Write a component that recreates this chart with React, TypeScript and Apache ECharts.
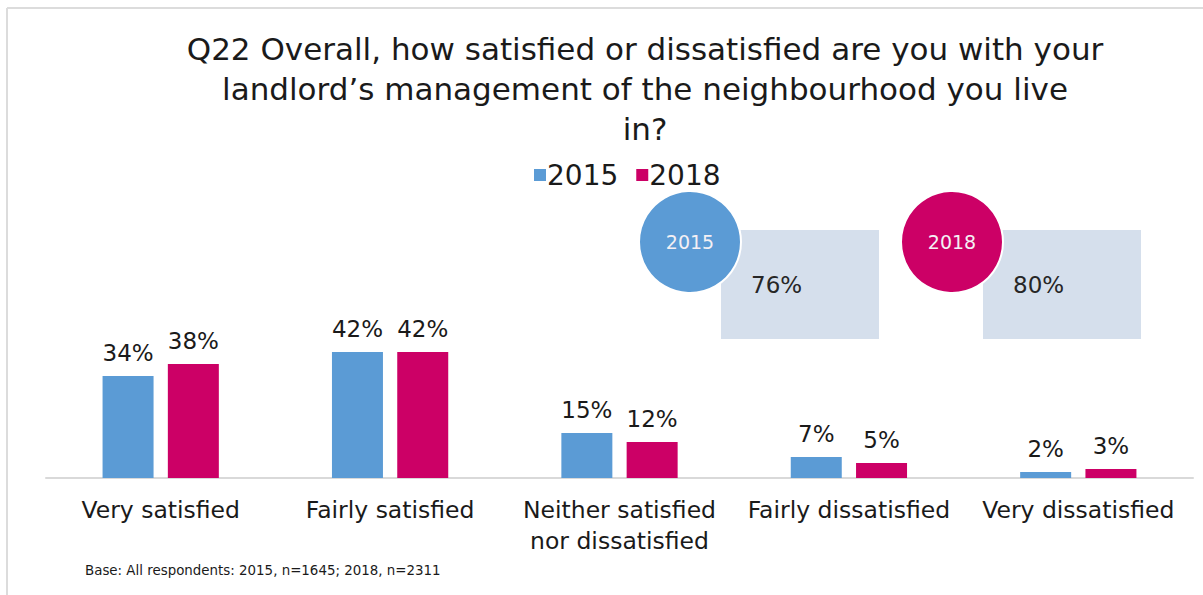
import React, { useEffect, useRef } from "react";
import * as echarts from "echarts";

const categories = [
  "Very satisfied",
  "Fairly satisfied",
  "Neither satisfied\nnor dissatisfied",
  "Fairly dissatisfied",
  "Very dissatisfied",
];
const values2015 = [34, 42, 15, 7, 2];
const values2018 = [38, 42, 12, 5, 3];
const seriesNames = ["2015", "2018"];
const seriesColors = ["#5B9BD5", "#CC0066"];
const summaryValues = [76, 80];
const titleText =
  "Q22 Overall, how satisfied or dissatisfied are you with your\nlandlord\u2019s management of the neighbourhood you live\nin?";
const baseText = "Base: All respondents: 2015, n=1645; 2018, n=2311";

const FONT = "DejaVu Sans";

export default function App() {
  const ref = useRef<HTMLDivElement>(null);
  useEffect(() => {
    if (!ref.current) return;
    const chart = echarts.init(ref.current, undefined, { renderer: "svg" });
    const circleX = [690, 952];
    const circleY = 242;
    const summaryGraphics: any[] = [];
    summaryValues.forEach((v, i) => {
      const cx = circleX[i];
      summaryGraphics.push({
        type: "rect",
        shape: { x: cx + 31, y: 230, width: 158, height: 109 },
        style: { fill: "#D5DFEC" },
        z: 10,
      });
      summaryGraphics.push({
        type: "circle",
        shape: { cx, cy: circleY, r: 51 },
        style: { fill: seriesColors[i], stroke: "#ffffff", lineWidth: 2 },
        z: 11,
      });
      summaryGraphics.push({
        type: "text",
        x: cx,
        y: circleY,
        style: {
          text: seriesNames[i],
          fill: "#f4f0f4",
          font: `19px "${FONT}"`,
          align: "center",
          verticalAlign: "middle",
        },
        z: 12,
      });
      summaryGraphics.push({
        type: "text",
        x: cx + 61,
        y: 285,
        style: {
          text: v + "%",
          fill: "#262626",
          font: `23px "${FONT}"`,
          align: "left",
          verticalAlign: "middle",
        },
        z: 12,
      });
    });

    const option: any = {
      animation: false,
      backgroundColor: "#ffffff",
      textStyle: { fontFamily: FONT },
      title: {
        text: titleText,
        left: 640,
        top: 24,
        textAlign: "center",
        textStyle: {
          fontFamily: FONT,
          fontSize: 31,
          fontWeight: "normal",
          color: "#1a1a1a",
          lineHeight: 40,
        },
      },
      legend: {
        data: seriesNames,
        left: 529,
        top: 156,
        icon: "rect",
        itemWidth: 12,
        itemHeight: 12,
        itemGap: 18,
        textStyle: { fontFamily: FONT, fontSize: 28, color: "#1a1a1a", padding: [0, 0, 0, -4] },
      },
      grid: { left: 46, right: 10, top: 178, bottom: 117, containLabel: false },
      xAxis: {
        type: "category",
        data: categories,
        axisLine: { lineStyle: { color: "#d9d9d9", width: 2 } },
        axisTick: { show: false },
        axisLabel: {
          fontFamily: FONT,
          fontSize: 23.5,
          color: "#1a1a1a",
          lineHeight: 31,
          margin: 16,
          interval: 0,
        },
      },
      yAxis: {
        type: "value",
        min: 0,
        max: 100,
        show: false,
        splitLine: { show: false },
      },
      series: [values2015, values2018].map((d, i) => ({
        name: seriesNames[i],
        type: "bar",
        data: d,
        barWidth: 51,
        barGap: "28%",
        itemStyle: { color: seriesColors[i] },
        label: {
          show: true,
          position: "top",
          distance: 12,
          formatter: "{c}%",
          fontFamily: FONT,
          fontSize: 23,
          color: "#1a1a1a",
        },
      })),
      graphic: [
        {
          type: "line",
          shape: { x1: 7, y1: 8, x2: 1203, y2: 8 },
          style: { stroke: "#dcdcdc", lineWidth: 2 },
        },
        {
          type: "line",
          shape: { x1: 7, y1: 8, x2: 7, y2: 595 },
          style: { stroke: "#dcdcdc", lineWidth: 2 },
        },
        ...summaryGraphics,
        {
          type: "text",
          x: 85,
          y: 570,
          style: {
            text: baseText,
            fill: "#1a1a1a",
            font: `13.4px "${FONT}"`,
            align: "left",
            verticalAlign: "middle",
          },
        },
      ],
    };
    chart.setOption(option);
    return () => chart.dispose();
  }, []);
  return (
    <div
      ref={ref}
      style={{ position: "fixed", left: 0, top: 0, width: 1203, height: 595 }}
    />
  );
}
